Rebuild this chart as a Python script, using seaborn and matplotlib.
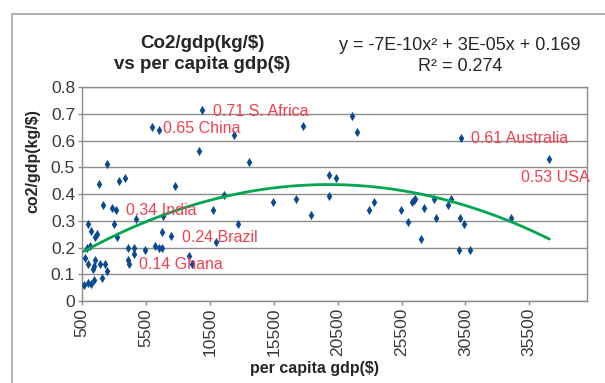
import numpy as np
import pandas as pd
import matplotlib
matplotlib.use("Agg")
import matplotlib.pyplot as plt
import seaborn as sns

# per capita gdp ($) and co2/gdp (kg/$)
gdp = [657, 993, 1181, 1440, 2040, 2480, 735, 993, 1338, 1416,
       1518, 1910, 2300, 915, 1126, 993, 1181, 1518, 1650, 1855,
       2120, 2825, 3160, 3030, 3265, 2480, 3420, 3870, 4125, 4125,
       4180, 4595, 4550, 4730, 5430, 6215, 6550, 6760, 6790, 6820,
       7490, 7800, 6000, 6510, 8900, 9090, 9685, 9900, 10720, 10990,
       11640, 12420, 12740, 13600, 15480, 17260, 17830, 18420, 19820, 19840,
       20360, 21660, 22010, 22920, 23310, 25450, 26000, 26320, 26440, 26550,
       27040, 27220, 28060, 28220, 29100, 29370, 29990, 30040, 30150, 30350,
       30820, 34070, 37070]
co2 = [0.059, 0.067, 0.065, 0.080, 0.087, 0.111, 0.161, 0.140, 0.120, 0.130,
       0.152, 0.140, 0.140, 0.200, 0.205, 0.289, 0.260, 0.240, 0.252, 0.436,
       0.360, 0.349, 0.342, 0.289, 0.240, 0.511, 0.447, 0.459, 0.200, 0.152,
       0.140, 0.200, 0.177, 0.308, 0.190, 0.207, 0.200, 0.200, 0.258, 0.319,
       0.242, 0.430, 0.650, 0.640, 0.170, 0.140, 0.561, 0.713, 0.340, 0.220,
       0.398, 0.622, 0.289, 0.521, 0.370, 0.380, 0.653, 0.320, 0.391, 0.470,
       0.460, 0.690, 0.631, 0.342, 0.369, 0.342, 0.295, 0.369, 0.379, 0.383,
       0.230, 0.349, 0.381, 0.309, 0.360, 0.381, 0.190, 0.309, 0.611, 0.289,
       0.190, 0.309, 0.531]

# labelled countries
lab_names = ["0.71 S. Africa", "0.65 China", "0.61 Australia", "0.53 USA",
             "0.34 India", "0.24 Brazil", "0.14 Ghana"]
lab_gdp = [9900, 6000, 30150, 37070, 3160, 7490, 4180]
lab_co2 = [0.713, 0.650, 0.611, 0.531, 0.342, 0.242, 0.140]

xticks = [500, 5500, 10500, 15500, 20500, 25500, 30500, 35500]
yticks = [0, 0.1, 0.2, 0.3, 0.4, 0.5, 0.6, 0.7, 0.8]

df = pd.DataFrame({"gdp": gdp, "co2": co2})

# quadratic trendline
coef = np.polyfit(df["gdp"], df["co2"], 2)
xs = np.linspace(min(gdp), max(gdp), 200)
trend = pd.DataFrame({"gdp": xs, "co2": np.polyval(coef, xs)})

sns.set_style("white")
plt.rcParams["font.family"] = ["Liberation Sans", "DejaVu Sans"]

fig = plt.figure(figsize=(6.05, 3.83), dpi=100)
ax = fig.add_axes([0.1355, 0.2141, 0.8345, 0.5587])

# outer chart border
fig.patches.append(plt.Rectangle((12 / 605, -0.05), 1.1, 1 - 14 / 383 + 0.05,
                                 transform=fig.transFigure, fill=False,
                                 edgecolor="#a6a6a6", linewidth=1.2))

sns.scatterplot(data=df, x="gdp", y="co2", marker="d", s=22, color="#0b4a93",
                edgecolor="#0b4a93", linewidth=0, ax=ax, zorder=3)
sns.lineplot(data=trend, x="gdp", y="co2", color="#00a550", linewidth=2.0,
             ax=ax, zorder=4)

red = "#f0404f"
for name, x, y in zip(lab_names, lab_gdp, lab_co2):
    if name.endswith("USA"):
        ax.annotate(name, (x, y), xytext=(4, -13), textcoords="offset points",
                    ha="center", va="center", color=red, fontsize=11.5, zorder=5)
    else:
        ax.annotate(name, (x, y), xytext=(7.5, -1), textcoords="offset points",
                    ha="left", va="center", color=red, fontsize=11.5, zorder=5)

ax.set_xlim(500, 40000)
ax.set_ylim(0, 0.8)
ax.set_xticks(xticks)
ax.set_xticklabels([str(t) for t in xticks], rotation=90)
ax.set_yticks(yticks)
ax.set_yticklabels(["0"] + [f"{t:.1f}" for t in yticks[1:]])
ax.yaxis.grid(True, color="#8c8c8c", linewidth=1.0)
ax.xaxis.grid(False)
for s in ax.spines.values():
    s.set_color("#8c8c8c")
    s.set_linewidth(1.0)
ax.tick_params(axis="both", direction="out", length=3, width=1, color="#8c8c8c",
               labelsize=12.5, labelcolor="#3a3a3a", pad=2, left=True, bottom=True)
ax.set_xlabel("")
ax.set_ylabel("")

fig.text(33 / 605, 1 - 161 / 383, "co2/gdp(kg/$)", rotation=90, ha="center",
         va="center", fontsize=11.5, fontweight="bold")
fig.text(314 / 605, 1 - 368 / 383, "per capita gdp($)", ha="center",
         va="center", fontsize=11.5, fontweight="bold")
fig.text(202 / 605, 1 - 54 / 383, "Co2/gdp(kg/$)\nvs per capita gdp($)",
         ha="center", va="center", fontsize=13.5, fontweight="bold", linespacing=1.3)
fig.text(460 / 605, 1 - 56 / 383, "y = -7E-10x² + 3E-05x + 0.169\nR² = 0.274",
         ha="center", va="center", fontsize=13, linespacing=1.3)

fig.savefig("out.png", dpi=100)
